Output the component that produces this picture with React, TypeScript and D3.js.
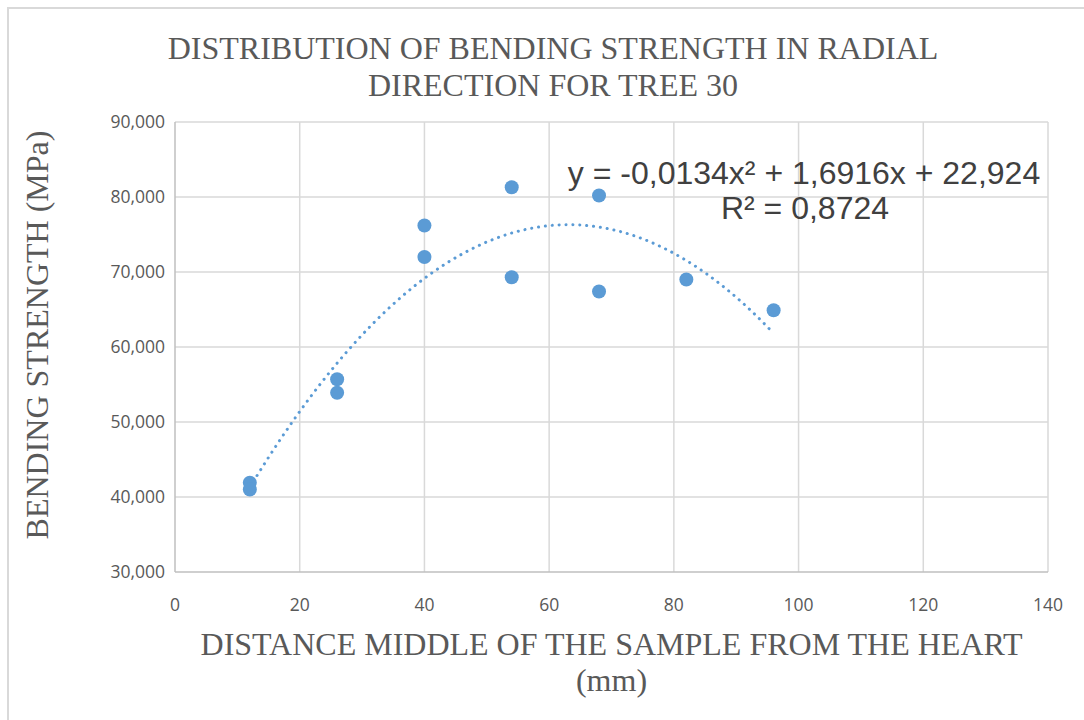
import { useEffect, useRef } from 'react';
import * as d3 from 'd3';

// sample positions (mm) and bending strength readings
const distances = [12, 12, 26, 26, 40, 40, 54, 54, 68, 68, 82, 96];
const strengths = [41.9, 41.0, 55.7, 53.9, 76.2, 72.0, 81.3, 69.3, 80.2, 67.4, 69.0, 64.9];

const xTicks = [0, 20, 40, 60, 80, 100, 120, 140];
const yTicks = [30, 40, 50, 60, 70, 80, 90];

// polynomial trendline coefficients (order 2) as shown on the chart
const trendCoef = [-0.0134, 1.6916, 22.924];
const trendEquation = 'y = -0,0134x² + 1,6916x + 22,924';
const trendR2 = 'R² = 0,8724';

const titleLines = ['DISTRIBUTION OF BENDING STRENGTH IN RADIAL', 'DIRECTION FOR TREE 30'];
const xTitleLines = ['DISTANCE MIDDLE OF THE SAMPLE FROM THE HEART', '(mm)'];
const yTitle = 'BENDING STRENGTH (MPa)';

const App = () => {
  const ref = useRef<SVGSVGElement>(null);

  useEffect(() => {
    const width = 1084;
    const height = 720;
    const margin = { top: 122, right: 36, bottom: 148, left: 175 };
    const color = '#5b9bd5';
    const serif = '"Liberation Serif", "Times New Roman", serif';
    const sans = '"Open Sans", "Liberation Sans", sans-serif';

    const svg = d3.select(ref.current);
    svg.selectAll('*').remove();
    svg.attr('width', width).attr('height', height);

    svg.append('rect').attr('width', width).attr('height', height).attr('fill', '#fff');

    // outer chart frame (only left/top visible)
    svg.append('path')
      .attr('d', `M8,${height} V8 H${width}`)
      .attr('fill', 'none')
      .attr('stroke', '#d9d9d9')
      .attr('stroke-width', 2);

    const x = d3.scaleLinear().domain([0, 140]).range([margin.left, width - margin.right]);
    const y = d3.scaleLinear().domain([30, 90]).range([height - margin.bottom, margin.top]);

    const locale = d3.formatLocale({ decimal: ',', thousands: '.', grouping: [3], currency: ['', ''] });
    const fmtY = locale.format('.3f');

    const g = svg.append('g');

    // gridlines
    g.selectAll('line.vgrid')
      .data(xTicks.slice(1))
      .enter()
      .append('line')
      .attr('x1', (d) => x(d)).attr('x2', (d) => x(d))
      .attr('y1', y(90)).attr('y2', y(30))
      .attr('stroke', '#d9d9d9').attr('stroke-width', 1.5);

    g.selectAll('line.hgrid')
      .data(yTicks.slice(1))
      .enter()
      .append('line')
      .attr('x1', x(0)).attr('x2', x(140))
      .attr('y1', (d) => y(d)).attr('y2', (d) => y(d))
      .attr('stroke', '#d9d9d9').attr('stroke-width', 1.5);

    // axis lines
    g.append('line')
      .attr('x1', x(0)).attr('x2', x(0)).attr('y1', y(90)).attr('y2', y(30))
      .attr('stroke', '#bfbfbf').attr('stroke-width', 1.5);
    g.append('line')
      .attr('x1', x(0)).attr('x2', x(140)).attr('y1', y(30)).attr('y2', y(30))
      .attr('stroke', '#bfbfbf').attr('stroke-width', 1.5);

    // tick labels
    g.selectAll('text.ytick')
      .data(yTicks)
      .enter()
      .append('text')
      .attr('x', x(0) - 10)
      .attr('y', (d) => y(d) + 6)
      .attr('text-anchor', 'end')
      .attr('font-family', sans)
      .attr('font-size', '17.5px')
      .attr('fill', '#595959')
      .text((d) => fmtY(d));

    g.selectAll('text.xtick')
      .data(xTicks)
      .enter()
      .append('text')
      .attr('x', (d) => x(d))
      .attr('y', y(30) + 39)
      .attr('text-anchor', 'middle')
      .attr('font-family', sans)
      .attr('font-size', '17.5px')
      .attr('fill', '#595959')
      .text((d) => d);

    // trendline
    const trendX = d3.range(distances[0], d3.max(distances)! + 0.01, 0.5);
    const poly = (v: number) => trendCoef[0] * v * v + trendCoef[1] * v + trendCoef[2];
    g.append('path')
      .attr('d', d3.line<number>().x((d) => x(d)).y((d) => y(poly(d)))(trendX) as string)
      .attr('fill', 'none')
      .attr('stroke', color)
      .attr('stroke-width', 3)
      .attr('stroke-linecap', 'round')
      .attr('stroke-dasharray', '0.1 6.8');

    // points
    g.selectAll('circle')
      .data(distances.map((d, i) => [d, strengths[i]]))
      .enter()
      .append('circle')
      .attr('cx', (d) => x(d[0]))
      .attr('cy', (d) => y(d[1]))
      .attr('r', 7)
      .attr('fill', color);

    // trend equation label
    const eq = svg.append('g')
      .attr('font-family', '"Liberation Sans", Arial, sans-serif')
      .attr('font-size', '32px')
      .attr('fill', '#404040')
      .attr('text-anchor', 'middle');
    eq.append('text').attr('x', 804).attr('y', 184).text(trendEquation);
    eq.append('text').attr('x', 805).attr('y', 219).text(trendR2);

    // titles
    const t = svg.append('g')
      .attr('font-family', serif)
      .attr('font-size', '32px')
      .attr('fill', '#595959')
      .attr('text-anchor', 'middle');
    titleLines.forEach((line, i) => {
      t.append('text').attr('x', 553).attr('y', 59 + i * 37).text(line);
    });

    const cx = (x(0) + x(140)) / 2;
    xTitleLines.forEach((line, i) => {
      t.append('text').attr('x', cx).attr('y', 655 + i * 36).text(line);
    });

    t.append('text')
      .attr('transform', `translate(48, ${(y(30) + y(90)) / 2 - 12}) rotate(-90)`)
      .text(yTitle);
  }, []);

  return <svg ref={ref} style={{ position: 'absolute', left: 0, top: 0 }}></svg>;
};

export default App;
